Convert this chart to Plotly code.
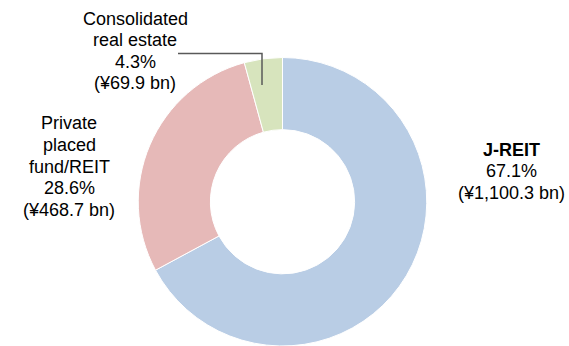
import plotly.graph_objects as go

# Breakdown of assets under management (¥ bn)
categories = ["J-REIT", "Private placed fund/REIT", "Consolidated real estate"]
values_bn = [1100.3, 468.7, 69.9]
colors = ["#B9CDE5", "#E6B9B8", "#D7E4BD"]

total = sum(values_bn)
shares = [v / total * 100 for v in values_bn]

W, H = 569, 346


def px(x):
    return x / W


def py(y):
    return 1 - y / H


fig = go.Figure(
    go.Pie(
        labels=categories,
        values=values_bn,
        hole=0.5,
        sort=False,
        direction="clockwise",
        rotation=0,
        marker=dict(colors=colors, line=dict(color="white", width=1)),
        textinfo="none",
        hoverinfo="label+value+percent",
        showlegend=False,
        domain=dict(x=[px(137.5), px(427.5)], y=[0, py(57.5)]),
    )
)

font = dict(family="Liberation Sans, Arial, sans-serif", size=18, color="#000000")
line_gap = 21.5

label_lines = [
    ["<b>J-REIT</b>", f"{shares[0]:.1f}%", f"(¥{values_bn[0]:,.1f} bn)"],
    ["Private", "placed", "fund/REIT", f"{shares[1]:.1f}%", f"(¥{values_bn[1]:,.1f} bn)"],
    ["Consolidated", "real estate", f"{shares[2]:.1f}%", f"(¥{values_bn[2]:,.1f} bn)"],
]
# centre of each label block (px)
label_pos = [(511, 171), (69, 166.5), (135, 51)]

for lines, (x, yc) in zip(label_lines, label_pos):
    n = len(lines)
    for i, text in enumerate(lines):
        y = yc + (i - (n - 1) / 2) * line_gap
        fig.add_annotation(
            x=px(x), y=py(y), xref="paper", yref="paper",
            text=text, showarrow=False, font=font,
            xanchor="center", yanchor="middle", align="center",
        )

# Leader line from the small slice to its label
fig.add_shape(
    type="path",
    path=f"M {px(178)} {py(53.5)} L {px(262)} {py(53.5)} L {px(262)} {py(85)}",
    xref="paper", yref="paper",
    line=dict(color="#595959", width=1.5),
)

fig.update_layout(
    width=W, height=H,
    margin=dict(l=0, r=0, t=0, b=0),
    paper_bgcolor="white",
    plot_bgcolor="white",
)

fig.write_html("out.html")
